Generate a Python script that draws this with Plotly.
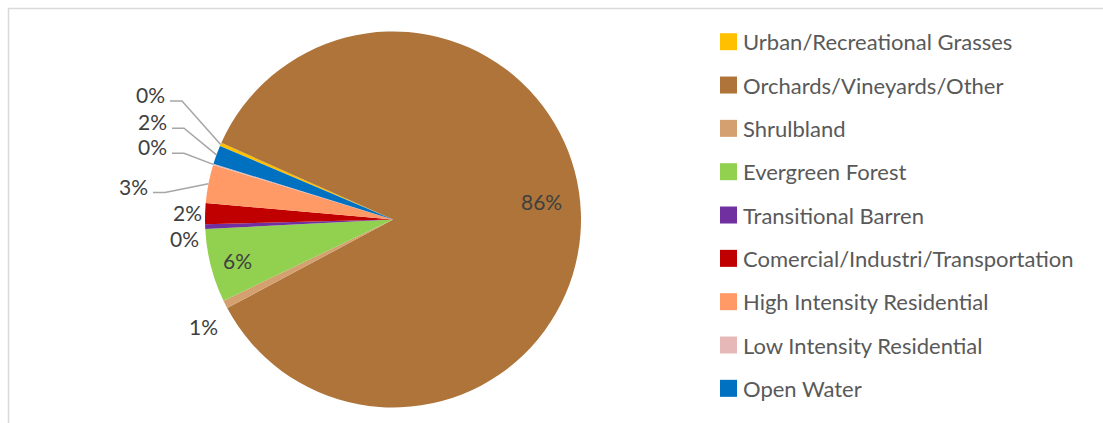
import math
import plotly.graph_objects as go

# Land-use categories and their share of the area (percent)
categories = [
    "Urban/Recreational Grasses",
    "Orchards/Vineyards/Other",
    "Shrulbland",
    "Evergreen Forest",
    "Transitional Barren",
    "Comercial/Industri/Transportation",
    "High Intensity Residential",
    "Low Intensity Residential",
    "Open Water",
]
shares = [0.3, 85.5, 0.7, 6.3, 0.4, 1.8, 3.3, 0.1, 1.6]
slice_colors = ["#FFC000", "#AE743A", "#D4A06F", "#92D050", "#7030A0",
                "#C00000", "#FF9966", "#E6B9B8", "#0070C0"]

# ---- layout constants (pixels) ----
W, H = 1103, 423
CX, CY, R = 393, 219.5, 188          # pie centre and radius
START_ANGLE = 293                     # clockwise from 12 o'clock
FONT = "Lato"
LABEL_SIZE = 21
LEGEND_SIZE = 22
LABEL_COLOR = "#404040"
LEGEND_COLOR = "#595959"

# where each data label sits (text centre, px) and whether it gets a leader line
label_place = {
    "Urban/Recreational Grasses": (150, 94.5, True),
    "Orchards/Vineyards/Other": (541, 201, False),
    "Shrulbland": (203, 326.5, False),
    "Evergreen Forest": (237.5, 260, False),
    "Transitional Barren": (184, 238.5, False),
    "Comercial/Industri/Transportation": (187, 213, False),
    "High Intensity Residential": (133, 186, True),
    "Low Intensity Residential": (152, 146.7, True),
    "Open Water": (152, 121.7, True),
}

# legend geometry
LEG_X_BOX = 728.5
LEG_X_TEXT = 741
LEG_Y0 = 41.7
LEG_DY = 43.33
LEG_BOX = 17


def px(x):
    return x / W


def py(y):
    return 1 - y / H


fig = go.Figure(
    go.Pie(
        labels=categories,
        values=shares,
        sort=False,
        direction="clockwise",
        rotation=START_ANGLE,
        marker=dict(colors=slice_colors, line=dict(width=0)),
        textinfo="none",
        hoverinfo="label+percent",
        showlegend=False,
        domain=dict(x=[px(CX - R), px(CX + R)], y=[py(CY + R), py(CY - R)]),
    )
)

annotations = []
shapes = []

# data labels, with elbow leader lines for the crowded small slices
total = sum(shares)
acc = 0.0
for name, v in zip(categories, shares):
    a0 = START_ANGLE + acc / total * 360
    acc += v
    a1 = START_ANGLE + acc / total * 360
    mid = math.radians((a0 + a1) / 2)
    ex = CX + R * math.sin(mid)
    ey = CY - R * math.cos(mid)
    tx, ty, leader = label_place[name]
    annotations.append(dict(
        x=px(tx), y=py(ty), xref="paper", yref="paper",
        text=f"{round(v / total * 100)}%", showarrow=False,
        xanchor="center", yanchor="middle",
        font=dict(family=FONT, size=LABEL_SIZE, color=LABEL_COLOR),
    ))
    if leader:
        sx, sy = tx + 20, ty + 6.5
        kx = sx + 12
        shapes.append(dict(
            type="path", xref="paper", yref="paper",
            path=f"M {px(sx)} {py(sy)} L {px(kx)} {py(sy)} L {px(ex)} {py(ey)}",
            line=dict(color="#A6A6A6", width=1.5),
        ))

# legend: coloured squares with category names
for i, (name, col) in enumerate(zip(categories, slice_colors)):
    yc = LEG_Y0 + i * LEG_DY
    half = LEG_BOX / 2
    shapes.append(dict(
        type="rect", xref="paper", yref="paper",
        x0=px(LEG_X_BOX - half), x1=px(LEG_X_BOX + half),
        y0=py(yc + half), y1=py(yc - half),
        fillcolor=col, line=dict(width=0),
    ))
    annotations.append(dict(
        x=px(LEG_X_TEXT), y=py(yc), xref="paper", yref="paper",
        text=name, showarrow=False, xanchor="left", yanchor="middle",
        font=dict(family=FONT, size=LEGEND_SIZE, color=LEGEND_COLOR),
    ))

# chart-area frame
shapes.append(dict(
    type="rect", xref="paper", yref="paper",
    x0=px(8.5), y0=py(8.5), x1=px(W + 20), y1=py(H + 20),
    line=dict(color="#D9D9D9", width=1.5), fillcolor="rgba(0,0,0,0)",
))

fig.update_layout(
    width=W, height=H,
    margin=dict(l=0, r=0, t=0, b=0),
    paper_bgcolor="white",
    plot_bgcolor="white",
    annotations=annotations,
    shapes=shapes,
)

fig.write_html("out.html")
